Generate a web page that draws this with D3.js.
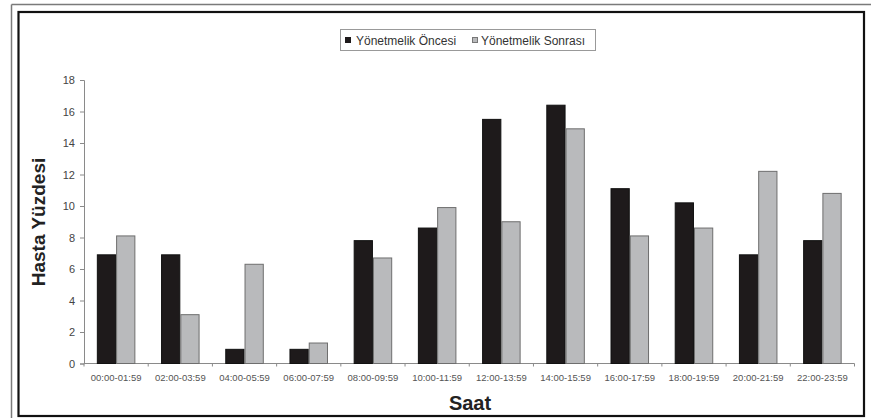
<!DOCTYPE html>
<html>
<head>
<meta charset="utf-8">
<script src="https://cdn.jsdelivr.net/npm/d3@7"></script>
<style>
html,body{margin:0;padding:0;background:#fff;}
svg{display:block;}
text{font-family:"Liberation Sans",Arial,sans-serif;}
</style>
</head>
<body>
<svg id="chart" width="871" height="418"></svg>
<script>
const categories = ["00:00-01:59","02:00-03:59","04:00-05:59","06:00-07:59","08:00-09:59","10:00-11:59","12:00-13:59","14:00-15:59","16:00-17:59","18:00-19:59","20:00-21:59","22:00-23:59"];
const seriesNames = ["Yönetmelik Öncesi","Yönetmelik Sonrası"];
const oncesi = [6.9, 6.9, 0.9, 0.9, 7.8, 8.6, 15.5, 16.4, 11.1, 10.2, 6.9, 7.8];
const sonrasi = [8.1, 3.1, 6.3, 1.3, 6.7, 9.9, 9.0, 14.9, 8.1, 8.6, 12.2, 10.8];
const yTicks = [0,2,4,6,8,10,12,14,16,18];
const yTitle = "Hasta Yüzdesi";
const xTitle = "Saat";

const svg = d3.select("#chart");
const fills = ["#1e1a1b", "#b9babc"];
const strokes = ["#111", "#6e6e6e"];

// outer frames
svg.append("line").attr("x1",11.5).attr("x2",871).attr("y1",4.5).attr("y2",4.5).attr("stroke","#7a7a7a").attr("stroke-width",1.5);
svg.append("line").attr("x1",11.5).attr("x2",11.5).attr("y1",4.5).attr("y2",418).attr("stroke","#7a7a7a").attr("stroke-width",1.5);
svg.append("rect").attr("x",18.5).attr("y",12).attr("width",845.5).attr("height",404).attr("fill","none").attr("stroke","#111").attr("stroke-width",2.2);

const x0 = d3.scaleBand().domain(categories).range([84, 854.5]).paddingInner(0.4).paddingOuter(0.2);
const x1 = d3.scaleBand().domain(seriesNames).range([0, x0.bandwidth()]).padding(0);
const y = d3.scaleLinear().domain([0, 18]).range([363.5, 80]);

// y axis
const yAxis = d3.axisLeft(y).tickValues(yTicks).tickSize(4).tickPadding(5);
const gy = svg.append("g").attr("transform","translate(84,0)").call(yAxis);
gy.select(".domain").attr("stroke","#8a8a8a");
gy.selectAll(".tick line").attr("stroke","#8a8a8a");
gy.selectAll("text").attr("font-size",11).attr("fill","#444").attr("font-family","Liberation Sans, Arial, sans-serif");

// x axis baseline and boundary ticks
const [r0, r1] = x0.range();
const step = x0.step();
svg.append("line").attr("x1",r0).attr("x2",r1).attr("y1",y(0)).attr("y2",y(0)).attr("stroke","#8a8a8a");
d3.range(categories.length + 1).forEach(i => {
  svg.append("line").attr("x1", r0 + i*step).attr("x2", r0 + i*step).attr("y1", y(0)).attr("y2", y(0)+3).attr("stroke","#8a8a8a");
});
svg.append("g").selectAll("text").data(categories).join("text")
  .attr("x", d => x0(d) + x0.bandwidth()/2)
  .attr("y", 381)
  .attr("text-anchor","middle")
  .attr("font-size",9.5)
  .attr("fill","#555")
  .text(d => d);

// bars
const seriesVals = [oncesi, sonrasi];
seriesNames.forEach((s, si) => {
  svg.append("g").selectAll("rect").data(categories).join("rect")
    .attr("x", d => x0(d) + x1(s) + 0.5)
    .attr("y", (d,i) => y(seriesVals[si][i]))
    .attr("width", x1.bandwidth() - 1)
    .attr("height", (d,i) => y(0) - y(seriesVals[si][i]))
    .attr("fill", fills[si])
    .attr("stroke", strokes[si])
    .attr("stroke-width", 1);
});

// axis titles
svg.append("text").attr("transform","translate(45,222) rotate(-90)")
  .attr("text-anchor","middle").attr("font-size",19).attr("font-weight","bold").attr("fill","#222").text(yTitle);
svg.append("text").attr("x",470).attr("y",410)
  .attr("text-anchor","middle").attr("font-size",20).attr("font-weight","bold").attr("fill","#222").text(xTitle);

// legend
const lg = svg.append("g");
lg.append("rect").attr("x",340.5).attr("y",29.5).attr("width",255).attr("height",21).attr("fill","#fff").attr("stroke","#999");
lg.append("rect").attr("x",345).attr("y",37).attr("width",6).attr("height",6).attr("fill",fills[0]);
lg.append("text").attr("x",356).attr("y",44.5).attr("font-size",12).attr("fill","#333").text(seriesNames[0]);
lg.append("rect").attr("x",472.5).attr("y",37.5).attr("width",5).attr("height",5).attr("fill",fills[1]).attr("stroke","#777");
lg.append("text").attr("x",481).attr("y",44.5).attr("font-size",12).attr("fill","#333").text(seriesNames[1]);
</script>
</body>
</html>
